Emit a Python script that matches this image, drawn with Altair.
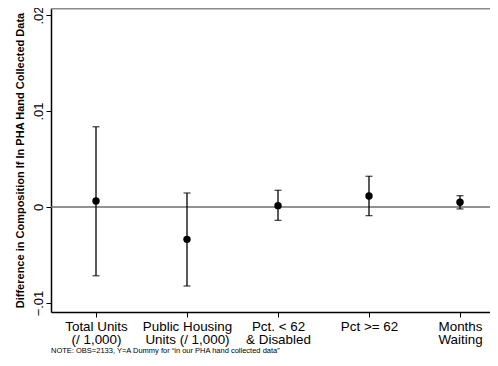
import altair as alt
import pandas as pd

categories = [["Total Units", "(/ 1,000)"],
              ["Public Housing", "Units (/ 1,000)"],
              ["Pct. < 62", "& Disabled"],
              ["Pct >= 62"],
              ["Months", "Waiting"]]
position = [1, 2, 3, 4, 5]
estimate = [0.00063, -0.00337, 0.00014, 0.00115, 0.00049]
ci_low = [-0.00716, -0.00823, -0.00139, -0.00090, -0.00020]
ci_high = [0.00836, 0.00146, 0.00174, 0.00320, 0.00118]
y_ticks = [-0.01, 0, 0.01, 0.02]
note = "NOTE: OBS=2133, Y=A Dummy for \u201cin our PHA hand collected data\u201d"
y_title = "Difference in Composition If In PHA Hand Collected Data"

df = pd.DataFrame({"pos": position, "est": estimate, "lo": ci_low, "hi": ci_high})

W, H = 439, 304
FONT = "Liberation Sans"

label_expr = "[" + ",".join("[" + ",".join("'" + s + "'" for s in c) + "]" for c in categories) + "][datum.value - 1]"

xscale = alt.Scale(domain=[0.5055, 5.3297], nice=False, zero=False)
yscale = alt.Scale(domain=[-0.010937, 0.020729], nice=False, zero=False)

xaxis = alt.Axis(values=position, labelExpr=label_expr, title=None, grid=False,
                 domainColor="black", domainWidth=1.5, tickColor="black", tickSize=5,
                 tickWidth=1, labelFont=FONT, labelFontSize=13.4, labelColor="black",
                 labelLineHeight=13.5, labelPadding=2, labelAngle=0)
yaxis = alt.Axis(values=y_ticks,
                 labelExpr="datum.value == 0 ? '0' : replace(format(datum.value, '.2f'), '0.', '.')",
                 title=y_title, grid=False, domainColor="black", domainWidth=1.5,
                 tickColor="black", tickSize=5, tickWidth=1, labelFont=FONT,
                 labelFontSize=13, labelColor="black", labelAngle=270,
                 labelAlign="center", labelBaseline="bottom", labelPadding=1,
                 titleFont=FONT, titleFontSize=11, titleFontWeight="bold",
                 titleColor="black", titlePadding=7)

base = alt.Chart(df)

zero = alt.Chart(pd.DataFrame({"z": [0]})).mark_rule(color="#6e6e6e", strokeWidth=1.5).encode(
    y=alt.Y("z:Q", scale=yscale, axis=yaxis))

top = alt.Chart(pd.DataFrame({"z": [0]})).mark_rule(color="#8a8a8a", strokeWidth=2).encode(
    x=alt.value(0), x2=alt.value(W), y=alt.value(0.5))

bars = base.mark_rule(color="black", strokeWidth=1.3).encode(
    x=alt.X("pos:Q", scale=xscale, axis=xaxis),
    y=alt.Y("lo:Q", scale=yscale, axis=yaxis), y2="hi:Q")

cap_lo = base.mark_tick(color="black", orient="horizontal", size=7, thickness=1.3).encode(
    x=alt.X("pos:Q", scale=xscale), y=alt.Y("lo:Q", scale=yscale))
cap_hi = base.mark_tick(color="black", orient="horizontal", size=7, thickness=1.3).encode(
    x=alt.X("pos:Q", scale=xscale), y=alt.Y("hi:Q", scale=yscale))

pts = base.mark_circle(color="black", size=55, opacity=1).encode(
    x=alt.X("pos:Q", scale=xscale), y=alt.Y("est:Q", scale=yscale))

chart = alt.layer(zero, top, bars, cap_lo, cap_hi, pts).properties(
    width=W, height=H,
    autosize=alt.AutoSizeParams(type="none"),
    padding={"left": 43, "top": 0, "right": 0, "bottom": 46},
    title=alt.TitleParams(note, orient="bottom", anchor="start", frame="group", font=FONT,
                          fontSize=7.5, fontWeight="normal", color="black", offset=1),
).configure_view(stroke=None).configure(background="white")

chart.save("out.html", embed_options={"renderer": "svg", "actions": False})
